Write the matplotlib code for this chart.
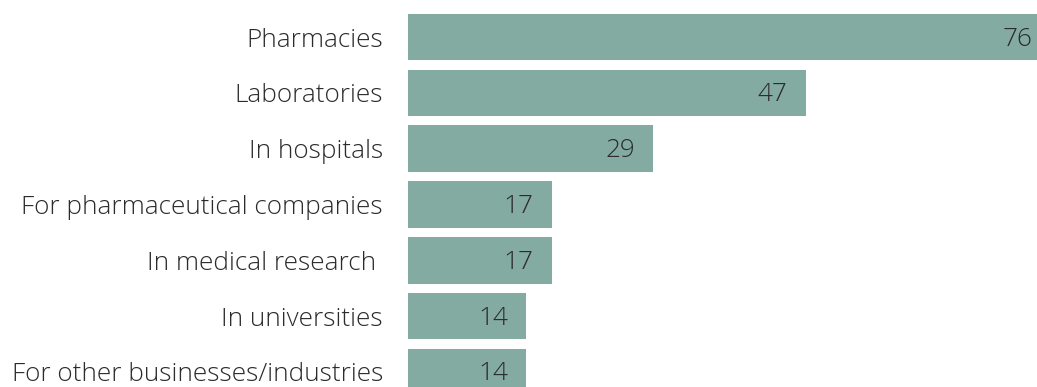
import matplotlib
matplotlib.use("Agg")
from matplotlib import pyplot as plt
from matplotlib.transforms import offset_copy

categories = [
    "Pharmacies",
    "Laboratories",
    "In hospitals",
    "For pharmaceutical companies",
    "In medical research ",
    "In universities",
    "For other businesses/industries",
]
values = [76, 47, 29, 17, 17, 14, 14]

bar_color = "#84aba2"
text_color = "#2b2b2b"

plt.rcParams["font.family"] = ["Open Sans", "DejaVu Sans"]

fig = plt.figure(figsize=(10.37, 3.87), dpi=100)
ax = fig.add_axes([408 / 1037, 0, 629 / 1037, 1])

pos = list(range(len(categories)))
ax.barh(pos, values, height=0.833, color=bar_color)

ax.set_xlim(0, 629 / 8.46)
ax.set_ylim(6.27, -0.663)

ax.set_yticks(pos)
ax.set_yticklabels(categories, fontsize=18.8, color=text_color, fontweight="light")
ax.tick_params(axis="y", length=0, pad=18)
ax.set_xticks([])
for s in ax.spines.values():
    s.set_visible(False)

# value labels inside the bar end
trans = offset_copy(ax.transData, fig=fig, x=-18, y=-2, units="dots")
for p, v in zip(pos, values):
    ax.text(v, p, str(v), transform=trans, ha="right", va="center",
            fontsize=18.8, color=text_color, fontweight="light", clip_on=False)

fig.savefig("out.png", dpi=100)
